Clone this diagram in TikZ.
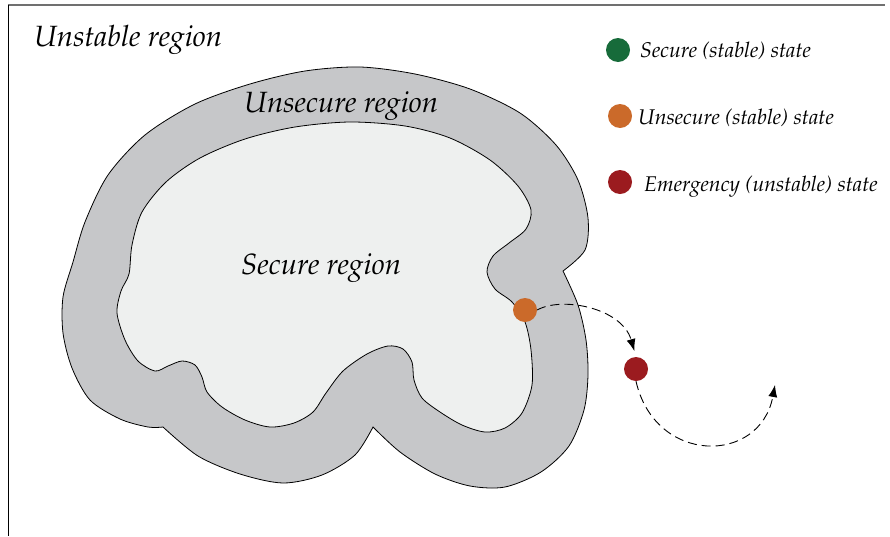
\documentclass[tikz,border=0pt]{standalone}
\usepackage[T1]{fontenc}
\usepackage{mathpazo}
\usetikzlibrary{arrows.meta}
\definecolor{unsecgray}{HTML}{C6C7C9}
\definecolor{secfill}{HTML}{EEF0EF}
\definecolor{stgreen}{HTML}{176B3A}
\definecolor{storange}{HTML}{CB6A2A}
\definecolor{stred}{HTML}{9B1B1F}
\definecolor{framegray}{HTML}{707070}
\tikzset{
  dot/.style={circle, inner sep=0pt, minimum size=24pt},
  biglabel/.style={font=\fontsize{29.3}{33}\selectfont\itshape, inner sep=0pt},
  leglabel/.style={font=\fontsize{21.3}{25}\selectfont\itshape, inner sep=0pt, anchor=base west},
  trans/.style={dash pattern=on 9pt off 5pt, line width=0.9pt, -{Latex[length=12pt,width=9pt]}},
  boundary/.style={line width=0.8pt, black}
}
\begin{document}
\begin{tikzpicture}[x=1pt,y=-1pt]
\useasboundingbox (0,0) rectangle (890,536);
% frame
\draw[framegray, line width=1.5pt] (8,5) -- (885,5);
\draw[black, line width=1pt] (8,5) -- (8,536);
% unsecure (outer) region
\draw[boundary, fill=unsecgray]
  plot[smooth, tension=0.5] coordinates {(563,271) (578,305) (586,340) (588,375) (584,410) (569,446) (541,472) (505,487) (470,486) (435,474) (400,452) (373,427)}
  -- plot[smooth, tension=0.5] coordinates {(373,427) (355,455) (322,475) (283,483) (240,474) (198,456) (163,427)}
  -- plot[smooth, tension=0.5] coordinates {(163,427) (148,427) (120,419) (90,400) (72,368) (63,333) (63,297) (73,262) (85,222) (108,175) (145,135) (195,104) (250,84) (305,71) (360,67) (415,74) (470,89) (520,113) (556,145) (578,180) (588,218) (585,250) (563,271)}
  -- cycle;
% secure (inner) region
\draw[boundary, fill=secfill]
  plot[smooth cycle, tension=0.5] coordinates {(142,212) (166,182) (200,158) (245,139) (295,127) (350,122) (405,126) (450,138) (490,160) (518,186) (531,210) (526,229) (509,243) (493,256) (487,272) (495,289) (512,302) (525,322) (531,350) (532,385) (522,413) (505,428) (485,432) (462,425) (440,412) (422,398) (414,380) (412,362) (403,349) (388,346) (367,354) (343,371) (326,393) (313,412) (294,423) (270,427) (245,420) (222,407) (207,392) (202,377) (195,365) (182,361) (168,366) (155,371) (138,361) (125,340) (117,313) (121,291) (129,274) (132,245)};
% region labels
\node[biglabel, anchor=base west] (unstable) at (34,46) {Unstable region};
\node[biglabel, anchor=base west] (unsecure) at (244,112) {Unsecure region};
\node[biglabel, anchor=base west] (secure) at (241,274) {Secure region};
% legend
\node[dot, fill=stgreen] (lg1) at (618,50) {};
\node[leglabel] (lt1) at (640,57) {Secure (stable) state};
\node[dot, fill=storange] (lg2) at (620,116) {};
\node[leglabel] (lt2) at (638,124) {Unsecure (stable) state};
\node[dot, fill=stred] (lg3) at (620,182) {};
\node[leglabel] (lt3) at (644,191) {Emergency (unstable) state};
% states and transitions
\node[dot, fill=storange] (st1) at (525,310) {};
\node[dot, fill=stred] (st2) at (636,369) {};
\coordinate (fin) at (775,385);
\draw[trans, shorten >=6pt] (st1.east) .. controls (562,296) and (622,308) .. (st2.north);
\draw[trans] (st2.south) .. controls (655,465) and (760,465) .. (fin);
\end{tikzpicture}
\end{document}
